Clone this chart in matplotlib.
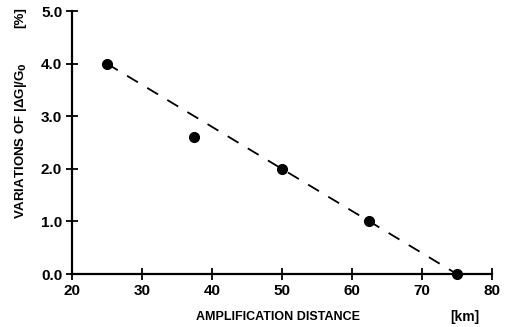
import numpy as np
import matplotlib.pyplot as plt

# measured points
distance = [25, 37.5, 50, 62.5, 75]
variation = [4.0, 2.6, 2.0, 1.0, 0.0]

# dashed trend line
fit_x = [25, 75]
fit_y = [4.0, 0.0]

xticks = [20, 30, 40, 50, 60, 70, 80]
yticks = [0.0, 1.0, 2.0, 3.0, 4.0, 5.0]

plt.rcParams['font.family'] = ['Liberation Sans', 'DejaVu Sans']
plt.rcParams['font.weight'] = 'bold'

fig = plt.figure(figsize=(5.14, 3.27), dpi=100)
ax = fig.add_axes([0.140, 0.162, 0.817, 0.804])

ax.plot(fit_x, fit_y, color='black', linestyle=(0, (7, 6)), linewidth=1.3)
ax.plot(distance, variation, 'o', color='black', markersize=7, clip_on=False)

ax.set_xlim(20, 80)
ax.set_ylim(0, 5)
ax.set_xticks(xticks)
ax.set_xticklabels([str(v) for v in xticks])
ax.set_yticks(yticks)
ax.set_yticklabels(['%.1f' % v for v in yticks])

for s in ['top', 'right']:
    ax.spines[s].set_visible(False)
for s in ['left', 'bottom']:
    ax.spines[s].set_linewidth(1.6)

ax.tick_params(direction='inout', length=8, width=1.3, labelsize=11, pad=3)
for lab in ax.get_xticklabels() + ax.get_yticklabels():
    lab.set_fontweight('bold')

# axis titles placed by hand, units sit at the ends
fig.text(0.04, 0.57, 'VARIATIONS OF |ΔG|/G$_\\mathbf{0}$', rotation=90,
         ha='center', va='center', fontsize=9.5, fontweight='bold')
fig.text(0.04, 0.945, '[%]', rotation=90, ha='center', va='center',
         fontsize=9.5, fontweight='bold')
fig.text(0.54, 0.03, 'AMPLIFICATION DISTANCE', ha='center', va='center',
         fontsize=9, fontweight='bold')
fig.text(0.905, 0.03, '[km]', ha='center', va='center',
         fontsize=10, fontweight='bold')

fig.savefig('out.png', dpi=100)
